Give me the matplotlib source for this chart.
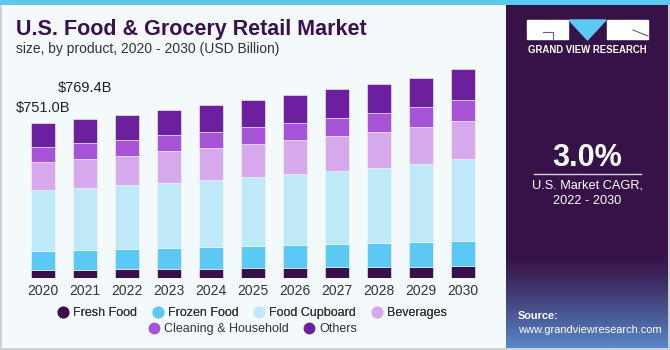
import numpy as np
import matplotlib.pyplot as plt
from matplotlib.patches import Rectangle, Polygon
from matplotlib.lines import Line2D

plt.rcParams['font.family'] = ['Liberation Sans', 'DejaVu Sans']

# data (USD Billion)
years = ['2020', '2021', '2022', '2023', '2024', '2025', '2026', '2027', '2028', '2029', '2030']
fresh_food = [40, 42, 43.5, 45, 47, 48.5, 50, 54.5, 56, 56, 59.5]
frozen_food = [92, 93.5, 98, 100, 104.5, 106.5, 110, 111, 114.5, 118, 121]
food_cupboard = [295, 302, 308, 318, 326, 337, 345, 355, 364.5, 379, 397]
beverages = [137, 140.5, 144, 151.5, 153, 158, 163, 168, 173, 177.5, 184]
cleaning = [72.5, 74.5, 77.5, 77.5, 79.5, 81, 85, 88.5, 93.5, 98, 101.5]
others = [114, 116.5, 121, 121, 127, 132, 135.5, 139, 139, 140.5, 148.5]
series_names = ['Fresh Food', 'Frozen Food', 'Food Cupboard', 'Beverages',
                'Cleaning & Household', 'Others']
value_labels = ['$751.0B', '$769.4B']

colors = ['#38104a', '#5bc9f4', '#bde9f9', '#d6a9ec', '#a653d8', '#6d209e']
bg = '#f4f9fc'
W, H = 670, 350

fig = plt.figure(figsize=(W / 100, H / 100), dpi=100, facecolor=bg)

# background / decoration layer in pixel coords
deco = fig.add_axes([0, 0, 1, 1], zorder=0)
deco.axis('off')
deco.add_patch(Rectangle((0.5, 0.5), W - 1.5, H - 1.5, fill=False,
                         edgecolor='#c8c8c8', linewidth=1.2))
deco.add_patch(Rectangle((0, 0), W, 5, color='#5bc9ef', linewidth=0))

# right panel with gradient at the bottom
panel_top, panel_bot = 5, 348
c1 = np.array([0x36, 0x12, 0x48]) / 255
c2 = np.array([0x58, 0x88, 0xc8]) / 255
t = np.clip((np.linspace(panel_top, panel_bot, 200) - 255) / (panel_bot - 255), 0, 1) ** 1.2
img = c1[None, :] * (1 - t[:, None]) + c2[None, :] * t[:, None]
deco.imshow(img[:, None, :], extent=[506, 668, panel_bot, panel_top], aspect='auto', zorder=1)
deco.set_xlim(0, W)
deco.set_ylim(H, 0)

# logo
deco.add_patch(Rectangle((527, 20), 41, 19, color='white', zorder=2))
deco.add_patch(Polygon([(569, 20), (606, 20), (587.5, 40)], closed=True, color='#5bc9f4', zorder=2))
deco.add_patch(Rectangle((607, 20), 41, 19, color='white', zorder=2))
deco.plot([543, 553, 553], [32, 32, 39], color='#6a5a7a', linewidth=0.8, zorder=3)
deco.plot([633, 648], [30, 36], color='#6a5a7a', linewidth=0.8, zorder=3)
deco.text(587.5, 50, 'GRAND VIEW RESEARCH', color='white', fontsize=6.9, fontweight='bold',
          ha='center', va='center', zorder=3)

deco.text(587, 158, '3.0%', color='white', fontsize=22, fontweight='bold',
          ha='center', va='center', zorder=3)
deco.plot([534, 641], [173.5, 173.5], color='#d8d0e0', linewidth=1, zorder=3)
deco.text(587, 185, 'U.S. Market CAGR,', color='white', fontsize=9.2,
          ha='center', va='center', zorder=3)
deco.text(587, 201, '2022 - 2030', color='white', fontsize=9.2,
          ha='center', va='center', zorder=3)
deco.text(518, 316, 'Source:', color='white', fontsize=7.9, fontweight='bold',
          ha='left', va='center', zorder=3)
deco.text(518, 330, 'www.grandviewresearch.com', color='white', fontsize=7.9,
          ha='left', va='center', zorder=3)

# titles
deco.text(16, 30, 'U.S. Food & Grocery Retail Market', color='#3a1050', fontsize=15.5,
          fontweight='heavy', ha='left', va='center')
deco.text(16, 49, 'size, by product, 2020 - 2030 (USD Billion)', color='#333333',
          fontsize=10, ha='left', va='center')

# chart axes
ax = fig.add_axes([22 / W, 1 - 278.3 / H, 462 / W, 218.3 / H], zorder=2)
ax.set_facecolor('none')
x = np.arange(len(years))
series = [fresh_food, frozen_food, food_cupboard, beverages, cleaning, others]
bottom = np.zeros(len(years))
for vals, col, name in zip(series, colors, series_names):
    ax.bar(x, vals, width=0.57, bottom=bottom, color=col, edgecolor=bg,
           linewidth=0.4, label=name)
    bottom += np.array(vals)

ax.set_xlim(-0.5, len(years) - 0.5)
ax.set_ylim(0, 1056)
ax.set_xticks(x)
ax.set_xticklabels(years, fontsize=10, color='#333333')
ax.tick_params(axis='x', length=0, pad=4)
ax.set_yticks([])
for s in ax.spines.values():
    s.set_visible(False)

# value labels for first two bars
label_offsets = [(-27, 15), (-27, 31)]
for i, lab in enumerate(value_labels):
    ax.annotate(lab, (x[i], bottom[i]), xytext=label_offsets[i],
                textcoords='offset pixels', fontsize=10.5, color='#222222',
                ha='left', va='center')

# legend in two centered rows
handles = [Line2D([0], [0], marker='o', linestyle='', markersize=7.5,
                  markerfacecolor=c, markeredgecolor=c) for c in colors]
leg_kw = dict(loc='center', frameon=False, fontsize=9, handletextpad=0.3,
              columnspacing=1.15, handlelength=1.0, labelcolor='#333333')
leg1 = fig.legend(handles[:4], series_names[:4], ncol=4,
                  bbox_to_anchor=(252 / W, 1 - 313 / H), **leg_kw)
leg2 = fig.legend(handles[4:], series_names[4:], ncol=2,
                  bbox_to_anchor=(252 / W, 1 - 329 / H), **leg_kw)
fig.add_artist(leg1)

fig.savefig('out.png', dpi=100, facecolor=bg)
